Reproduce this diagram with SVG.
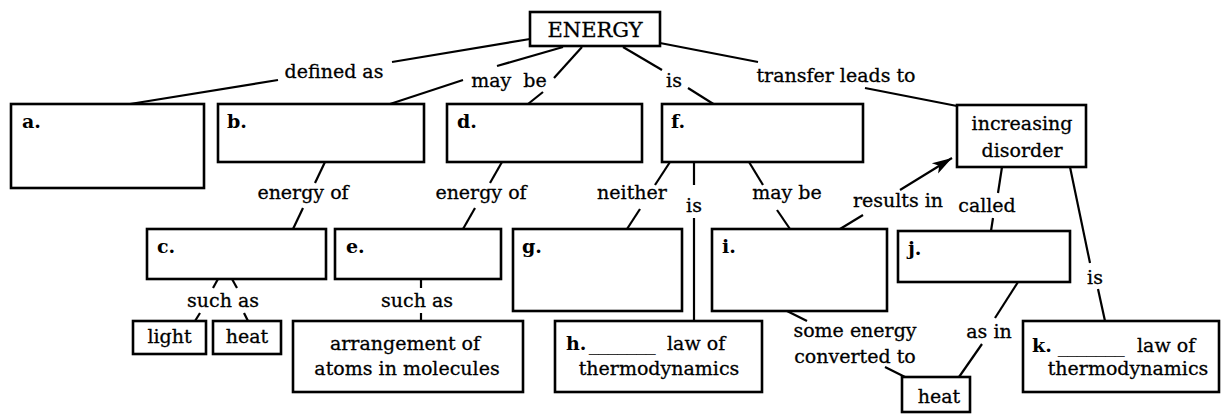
<svg xmlns="http://www.w3.org/2000/svg" width="1222" height="414" viewBox="0 0 1222 414">
<style>
.box{fill:#fff;stroke:#000;stroke-width:2.6}
.conn line{stroke:#000;stroke-width:2.2;fill:none}
text{font-family:"DejaVu Serif","Liberation Serif",serif;font-size:19px;fill:#000;stroke:#000;stroke-width:0.3}
.c{text-anchor:middle}
.lt{font-weight:bold;font-size:19px;stroke-width:0}
.big{font-size:21px}
</style>
<defs>
<marker id="arr" markerUnits="userSpaceOnUse" markerWidth="22" markerHeight="14" refX="20" refY="7" orient="auto">
<path d="M0,1 L20,7 L0,13 L5,7 Z" fill="#000"/>
</marker>
</defs>
<rect width="1222" height="414" fill="#fff"/>

<g id="connectors" class="conn">
<line x1="530" y1="39" x2="392" y2="62"/>
<line x1="278" y1="80" x2="130" y2="104"/>
<line x1="563" y1="47" x2="497" y2="66"/>
<line x1="463" y1="80" x2="390" y2="104"/>
<line x1="582" y1="47" x2="554" y2="78"/>
<line x1="543" y1="92" x2="528" y2="104"/>
<line x1="623" y1="47" x2="662" y2="70"/>
<line x1="688" y1="88" x2="715" y2="105"/>
<line x1="660" y1="43" x2="758" y2="62"/>
<line x1="865" y1="88" x2="957" y2="106"/>
<line x1="325" y1="162" x2="315" y2="183"/>
<line x1="303" y1="208" x2="293" y2="229"/>
<line x1="502" y1="162" x2="490" y2="183"/>
<line x1="475" y1="208" x2="463" y2="229"/>
<line x1="670" y1="162" x2="655" y2="185"/>
<line x1="640" y1="209" x2="627" y2="229"/>
<line x1="694" y1="162" x2="694" y2="185"/>
<line x1="694" y1="218" x2="694" y2="321"/>
<line x1="749" y1="162" x2="763" y2="185"/>
<line x1="777" y1="210" x2="790" y2="229"/>
<line x1="840" y1="229" x2="863" y2="215"/>
<line x1="900" y1="190" x2="952" y2="158" marker-end="url(#arr)"/>
<line x1="1002" y1="167" x2="998" y2="193"/>
<line x1="993" y1="218" x2="991" y2="231"/>
<line x1="1070" y1="167" x2="1090" y2="263"/>
<line x1="1098" y1="289" x2="1105" y2="321"/>
<line x1="1018" y1="282" x2="995" y2="318"/>
<line x1="982" y1="344" x2="959" y2="377"/>
<line x1="787" y1="311" x2="807" y2="321"/>
<line x1="885" y1="367" x2="905" y2="377"/>
<line x1="218" y1="279" x2="213" y2="288"/>
<line x1="232" y1="279" x2="237" y2="288"/>
<line x1="200" y1="313" x2="195" y2="321"/>
<line x1="244" y1="313" x2="248" y2="321"/>
<line x1="421" y1="279" x2="421" y2="288"/>
<line x1="421" y1="313" x2="421" y2="321"/>
<text class="c" x="334" y="78">defined as</text>
<text class="c" x="509" y="87" xml:space="preserve">may  be</text>
<text class="c" x="674" y="87">is</text>
<text class="c" x="836" y="82">transfer leads to</text>
<text class="c" x="303" y="199">energy of</text>
<text class="c" x="481" y="199">energy of</text>
<text class="c" x="632" y="199">neither</text>
<text class="c" x="694" y="212">is</text>
<text class="c" x="787" y="199">may be</text>
<text class="c" x="898" y="207">results in</text>
<text class="c" x="987" y="212">called</text>
<text class="c" x="1095" y="284">is</text>
<text class="c" x="223" y="307">such as</text>
<text class="c" x="417" y="307">such as</text>
<text class="c" x="855" y="337">some energy</text>
<text class="c" x="855" y="363">converted to</text>
<text class="c" x="989" y="338">as in</text>
</g>

<g id="energy"><rect class="box" x="530" y="12" width="130" height="34"/><text class="c big" x="595" y="37">ENERGY</text></g>
<g id="a"><rect class="box" x="11" y="104" width="193" height="84"/><text class="lt" x="22" y="128">a.</text></g>
<g id="b"><rect class="box" x="218" y="104" width="206" height="58"/><text class="lt" x="227" y="128">b.</text></g>
<g id="d"><rect class="box" x="447" y="104" width="195" height="58"/><text class="lt" x="457" y="128">d.</text></g>
<g id="f"><rect class="box" x="662" y="104" width="201" height="58"/><text class="lt" x="671" y="128">f.</text></g>
<g id="disorder"><rect class="box" x="957" y="105" width="129" height="62"/><text class="c" x="1022" y="130">increasing</text><text class="c" x="1022" y="157">disorder</text></g>
<g id="c"><rect class="box" x="147" y="229" width="179" height="50"/><text class="lt" x="157" y="253">c.</text></g>
<g id="e"><rect class="box" x="335" y="229" width="166" height="50"/><text class="lt" x="346" y="253">e.</text></g>
<g id="g"><rect class="box" x="513" y="229" width="169" height="82"/><text class="lt" x="522" y="253">g.</text></g>
<g id="i"><rect class="box" x="712" y="229" width="175" height="82"/><text class="lt" x="722" y="253">i.</text></g>
<g id="j"><rect class="box" x="898" y="231" width="172" height="51"/><text class="lt" x="908" y="255">j.</text></g>
<g id="light"><rect class="box" x="133" y="321" width="73" height="33"/><text class="c" x="169.5" y="343">light</text></g>
<g id="heat1"><rect class="box" x="213" y="321" width="68" height="33"/><text class="c" x="247" y="343">heat</text></g>
<g id="arrangement"><rect class="box" x="293" y="321" width="230" height="71"/><text class="c" x="405" y="350">arrangement of</text><text class="c" x="407" y="375">atoms in molecules</text></g>
<g id="h"><rect class="box" x="555" y="321" width="207" height="71"/><text x="566" y="350"><tspan class="lt">h.</tspan><tspan x="589">_______</tspan><tspan x="667">law of</tspan></text><text class="c" x="659" y="375">thermodynamics</text></g>
<g id="heat2"><rect class="box" x="902" y="377" width="68" height="35"/><text class="c" x="939" y="403">heat</text></g>
<g id="k"><rect class="box" x="1023" y="321" width="196" height="71"/><text x="1032" y="352"><tspan class="lt">k.</tspan><tspan x="1058">_______</tspan><tspan x="1137">law of</tspan></text><text class="c" x="1128" y="375">thermodynamics</text></g>
</svg>
